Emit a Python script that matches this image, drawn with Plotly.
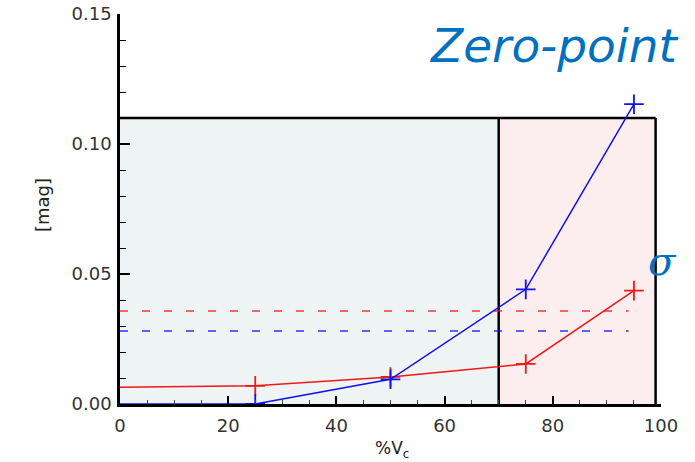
import plotly.graph_objects as go

# Data
pct_vc = [0, 25, 50, 75, 95]
zero_point = [0.0, 0.0, 0.0095, 0.0441, 0.1153]
sigma = [0.0064, 0.0070, 0.0104, 0.0154, 0.0436]
zp_mean = 0.0281
sigma_mean = 0.0358
dash_x = [0, 94]
region_split = 70
region_end = 99
region_top = 0.11

BLUE = "#1010F0"
RED = "#F01818"
TXT = "#0070C0"

W, H = 695, 462
PL, PR, PT, PB = 120, 661, 14, 404  # plot area in page pixels
PW, PH = PR - PL, PB - PT


def px(x):
    return (x - PL) / PW


def py(y):
    return (PB - y) / PH


fig = go.Figure()

fig.add_shape(type="rect", x0=0, x1=region_split, y0=0, y1=region_top,
              fillcolor="#EEF3F3", line_width=0, layer="below")
fig.add_shape(type="rect", x0=region_split, x1=region_end, y0=0, y1=region_top,
              fillcolor="#FCEEEE", line_width=0, layer="below")
for (x0, y0, x1, y1) in [(0, region_top, region_end, region_top),
                         (region_split, 0, region_split, region_top),
                         (region_end, 0, region_end, region_top)]:
    fig.add_shape(type="line", x0=x0, x1=x1, y0=y0, y1=y1,
                  line=dict(color="black", width=2.5), layer="below")

fig.add_trace(go.Scatter(x=dash_x, y=[sigma_mean]*2, mode="lines",
                         line=dict(color=RED, width=1.5, dash="8px,14px"), opacity=0.85))
fig.add_trace(go.Scatter(x=dash_x, y=[zp_mean]*2, mode="lines",
                         line=dict(color=BLUE, width=1.5, dash="8px,14px"), opacity=0.85))

for yvals, col in [(sigma, RED), (zero_point, BLUE)]:
    fig.add_trace(go.Scatter(x=pct_vc, y=yvals, mode="lines",
                             line=dict(color=col, width=1.5)))
    # markers for all points except the one on the axis at x=0
    fig.add_trace(go.Scatter(x=pct_vc[1:], y=yvals[1:], mode="markers",
                             marker=dict(symbol="cross-thin", size=14,
                                         line=dict(color=col, width=1.8))))

tickfont = dict(family="DejaVu Sans", size=18, color="#333333")

fig.update_layout(
    template="none",
    width=W, height=H,
    margin=dict(l=PL, r=W - PR, t=PT, b=H - PB, autoexpand=False),
    paper_bgcolor="white", plot_bgcolor="white",
    showlegend=False,
    xaxis=dict(range=[0, 100], tickvals=[0, 20, 40, 60, 80, 100],
               ticks="inside", ticklen=8, tickwidth=1.5, tickcolor="black",
               minor=dict(ticks="inside", dtick=5, ticklen=4, tickwidth=1, tickcolor="#444"),
               showline=True, linecolor="black", linewidth=3, automargin=False,
               showgrid=False, zeroline=False, tickfont=tickfont,
               ticklabelstandoff=3, ticklabeloverflow="allow"),
    yaxis=dict(range=[0, 0.15], tickvals=[0, 0.05, 0.10, 0.15],
               ticktext=["0.00", "0.05", "0.10", "0.15"],
               ticks="inside", ticklen=10, tickwidth=1.5, tickcolor="black",
               minor=dict(ticks="inside", dtick=0.01, ticklen=6, tickwidth=1.2, tickcolor="black"),
               showline=True, linecolor="black", linewidth=2.5, automargin=False,
               showgrid=False, zeroline=False, tickfont=tickfont,
               ticklabelstandoff=2, ticklabeloverflow="allow"),
    annotations=[
        dict(text="%V<sub>c</sub>", xref="paper", yref="paper", x=px(392), y=py(449),
             showarrow=False, font=dict(family="DejaVu Sans", size=17, color="#222"),
             xanchor="center", yanchor="middle"),
        dict(text="[mag]", xref="paper", yref="paper", x=px(42), y=py(205),
             showarrow=False, textangle=-90, font=dict(family="DejaVu Sans", size=18, color="#222"),
             xanchor="center", yanchor="middle"),
        dict(text="<i>Zero-point</i>", xref="paper", yref="paper", x=px(554), y=py(45),
             showarrow=False, font=dict(family="DejaVu Sans", size=47, color=TXT),
             xanchor="center", yanchor="middle"),
        dict(text="<i>σ</i>", xref="paper", yref="paper", x=px(662), y=py(261),
             showarrow=False, font=dict(family="DejaVu Serif", size=40, color=TXT),
             xanchor="center", yanchor="middle"),
    ],
)

fig.write_html("out.html", config={"displayModeBar": False},
               post_script="document.body.style.margin='0';document.body.style.overflow='hidden';")
